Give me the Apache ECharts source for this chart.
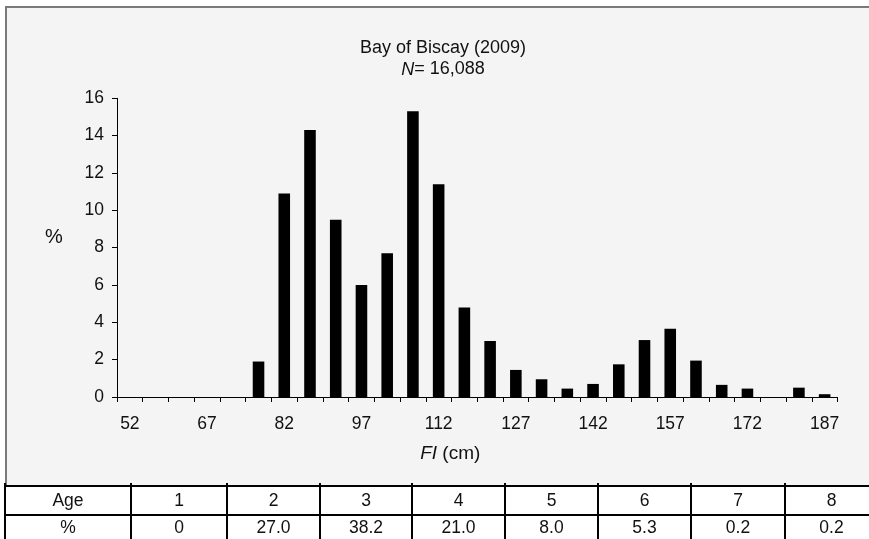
<!DOCTYPE html>
<html>
<head>
<meta charset="utf-8">
<script src="https://cdn.jsdelivr.net/npm/echarts@6/dist/echarts.min.js"></script>
<style>
html,body{margin:0;padding:0;background:#fff;}
#c{width:869px;height:539px;}
</style>
</head>
<body>
<div id="c"></div>
<script>
// ---- data ----
var lengthClasses = ['52','57','62','67','72','77','82','87','92','97','102','107','112','117','122','127','132','137','142','147','152','157','162','167','172','177','182','187'];
var percentValues = [0,0,0,0,0,1.9,10.9,14.3,9.5,6.0,7.7,15.3,11.4,4.8,3.0,1.45,0.95,0.45,0.7,1.75,3.05,3.65,1.95,0.65,0.45,0,0.5,0.15];
var yTicks = [0,2,4,6,8,10,12,14,16];
var ageHeader = 'Age';
var ages = ['1','2','3','4','5','6','7','8'];
var pctHeader = '%';
var agePercents = ['0','27.0','38.2','21.0','8.0','5.3','0.2','0.2'];
var yAxisTitle = '%';

// ---- layout ----
var FONT = '"Liberation Sans", Arial, Helvetica, sans-serif';
var colEdges = [5,131,227,320,412,505,598,691,785,878];
var tableTop = 486, tableMid = 515, tableBottom = 545;

var graphics = [];
graphics.push({type:'rect', z:-10, shape:{x:6,y:7,width:900,height:479}, style:{fill:'#f4f4f4', stroke:'#7a7a7a', lineWidth:2}});
// y-axis title
graphics.push({type:'text', z:10, x:54, y:237, style:{text:yAxisTitle, align:'center', verticalAlign:'middle', fontSize:20, fontFamily:FONT, fill:'#111'}});
// table lines
graphics.push({type:'line', z:10, shape:{x1:4,y1:tableTop,x2:869,y2:tableTop}, style:{stroke:'#000',lineWidth:2}});
graphics.push({type:'line', z:10, shape:{x1:4,y1:tableMid,x2:869,y2:tableMid}, style:{stroke:'#000',lineWidth:2}});
for (var i=0;i<colEdges.length;i++){
  graphics.push({type:'line', z:10, shape:{x1:colEdges[i],y1:tableTop-3,x2:colEdges[i],y2:tableBottom}, style:{stroke:'#000',lineWidth:2}});
}
var row1 = [ageHeader].concat(ages);
var row2 = [pctHeader].concat(agePercents);
for (var j=0;j<row1.length;j++){
  var cx = (colEdges[j]+colEdges[j+1])/2;
  graphics.push({type:'text', z:10, x:cx, y:(tableTop+tableMid)/2+1, style:{text:row1[j], align:'center', verticalAlign:'middle', fontSize:17.5, fontFamily:FONT, fill:'#111'}});
  graphics.push({type:'text', z:10, x:cx, y:(tableMid+tableBottom)/2-1.5, style:{text:row2[j], align:'center', verticalAlign:'middle', fontSize:17.5, fontFamily:FONT, fill:'#111'}});
}

var chart = echarts.init(document.getElementById('c'), null, {renderer:'canvas'});
chart.setOption({
  backgroundColor:'#ffffff',
  animation:false,
  title:{
    text:'Bay of Biscay (2009)\n{i|N}= 16,088',
    left:443, top:38, padding:0, textAlign:'center',
    textStyle:{fontSize:18, fontWeight:'normal', color:'#111', fontFamily:FONT, lineHeight:21,
      rich:{i:{fontStyle:'italic', fontSize:18, color:'#111', fontFamily:FONT, lineHeight:21}}}
  },
  graphic: graphics,
  grid:{left:117, right:31.5, top:98.3, bottom:142, containLabel:false},
  xAxis:{
    type:'category',
    data:lengthClasses,
    boundaryGap:true,
    name:'{i|FI} (cm)',
    nameLocation:'middle',
    nameGap:47,
    nameTextStyle:{fontSize:19, color:'#111', fontFamily:FONT, padding:[0,54,0,0],
      rich:{i:{fontStyle:'italic', fontSize:19, color:'#111', fontFamily:FONT}}},
    axisLine:{show:true, lineStyle:{color:'#000', width:1}},
    axisTick:{show:true, interval:0, length:5, inside:false, lineStyle:{color:'#000'}},
    axisLabel:{interval:2, margin:18, fontSize:17.5, color:'#111', fontFamily:FONT},
    splitLine:{show:false}
  },
  yAxis:{
    type:'value',
    min:0, max:16, interval:2,
    axisLine:{show:true, lineStyle:{color:'#000', width:1}},
    axisTick:{show:true, length:5, lineStyle:{color:'#000'}},
    axisLabel:{margin:13, fontSize:17.5, color:'#111', fontFamily:FONT,
      formatter:function(v){ return yTicks.indexOf(v) >= 0 ? String(v) : ''; }},
    splitLine:{show:false}
  },
  series:[{
    type:'bar',
    data:percentValues,
    barWidth:'45%',
    itemStyle:{color:'#000'},
    silent:true
  }]
});
</script>
</body>
</html>
